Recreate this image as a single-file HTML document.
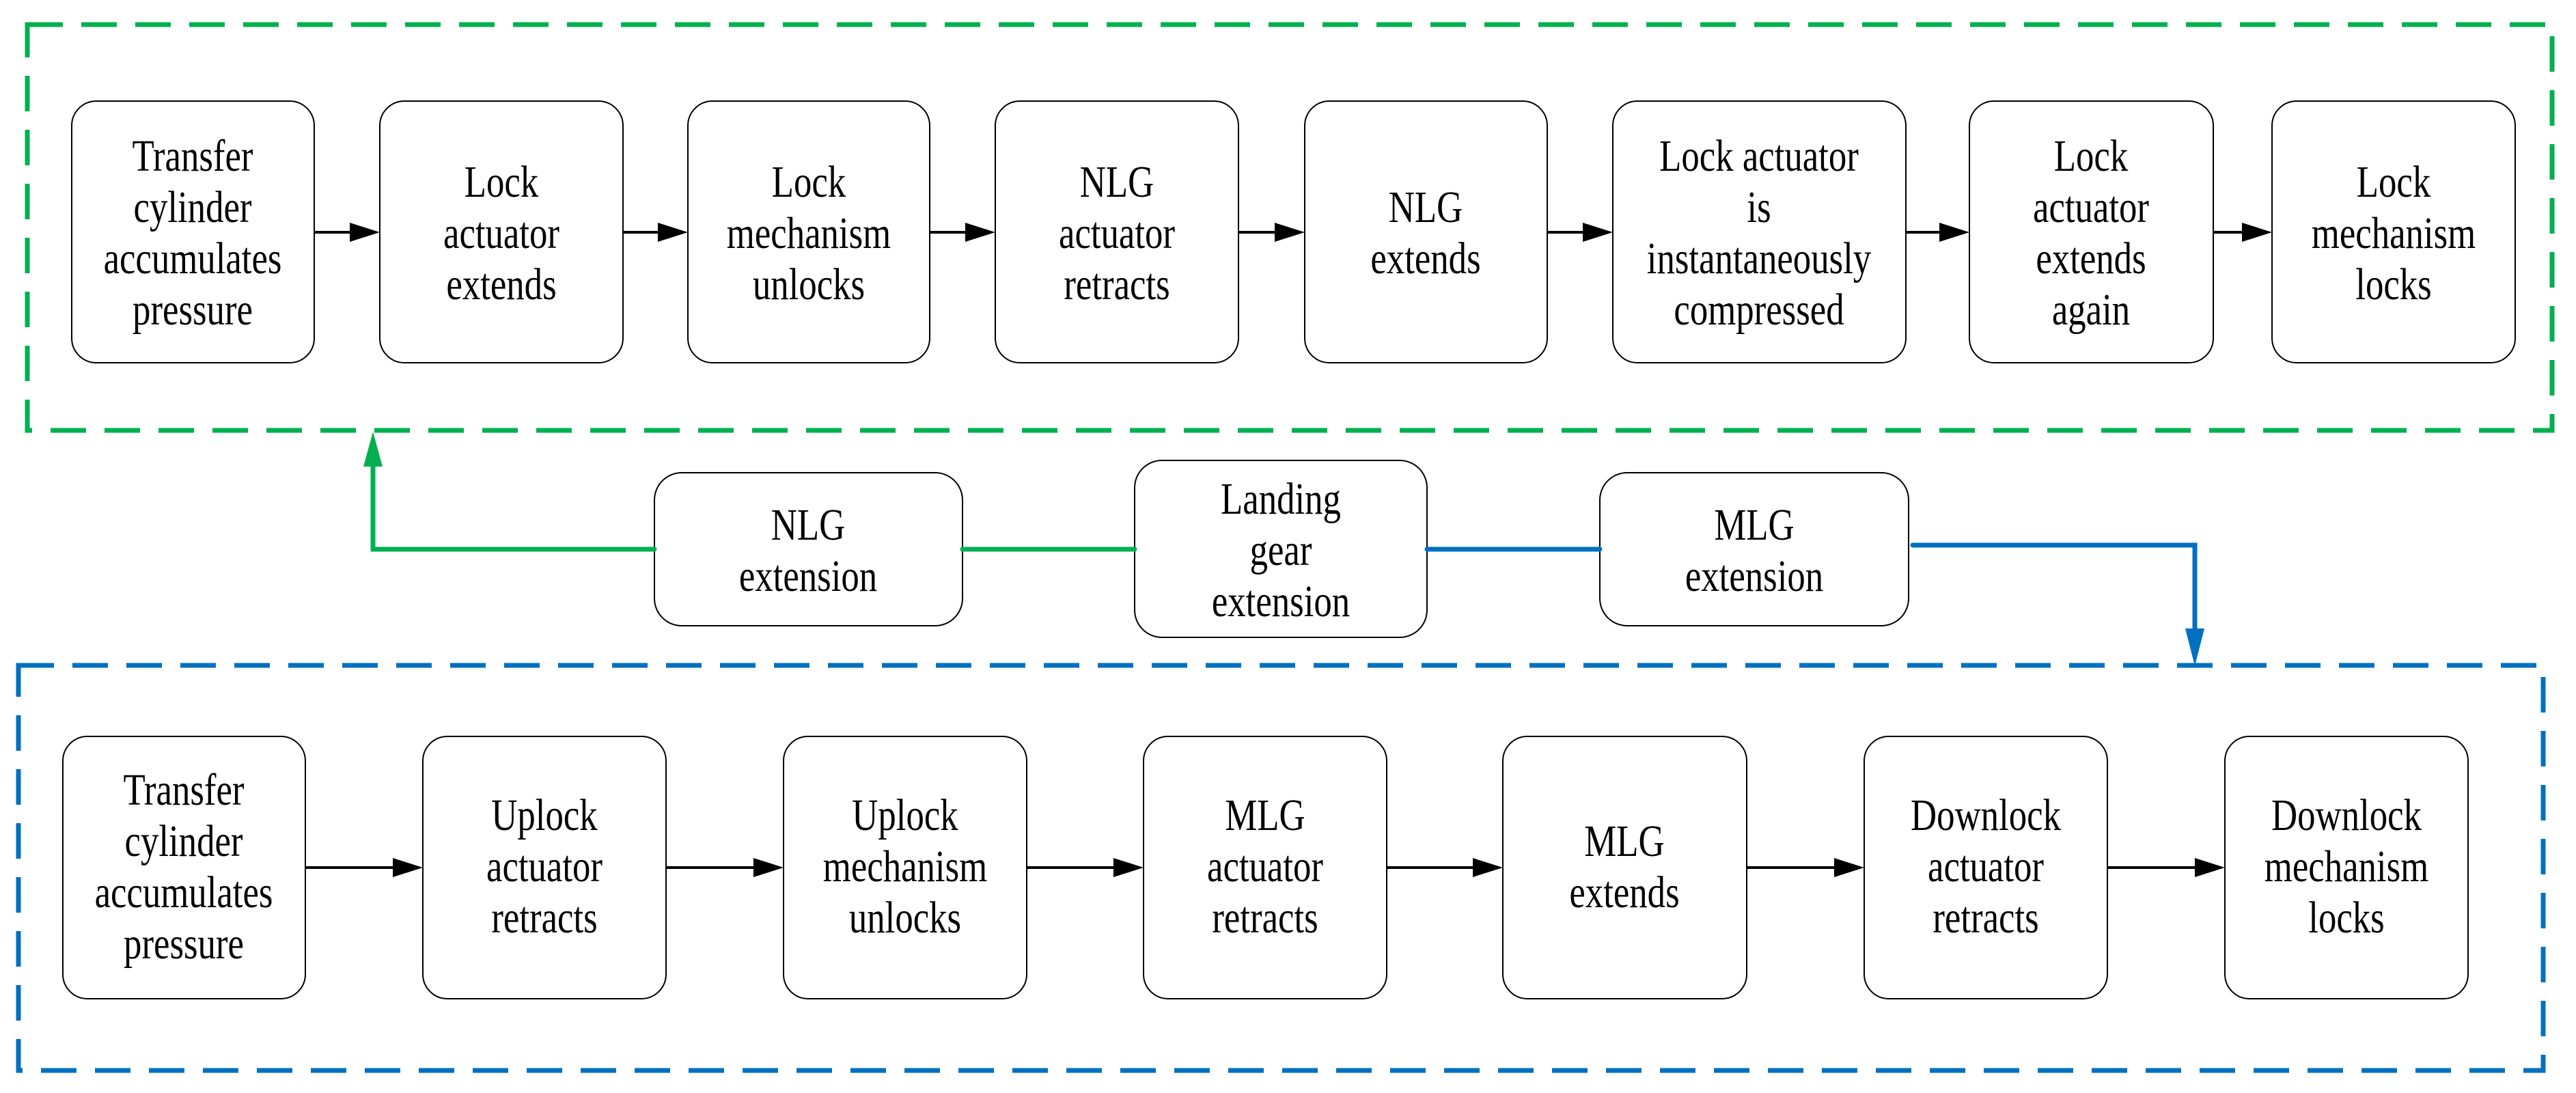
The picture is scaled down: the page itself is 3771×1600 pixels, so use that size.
<!DOCTYPE html>
<html><head><meta charset="utf-8"><style>
html,body{margin:0;padding:0;background:#fff;}
svg{display:block;}
svg text{font-family:"Liberation Serif","Times New Roman",serif;font-size:66px;fill:#000;}
</style></head><body>
<svg width="3771" height="1600" viewBox="0 0 3771 1600" xmlns="http://www.w3.org/2000/svg" font-family="Liberation Serif, Times New Roman, serif">
<!-- dashed containers -->
<rect x="40" y="36" width="3696" height="594" fill="none" stroke="#00b050" stroke-width="7" stroke-dasharray="52,27"/>
<rect x="27" y="974" width="3696" height="593" fill="none" stroke="#0070c0" stroke-width="7" stroke-dasharray="52,27"/>

<g fill="#fff" stroke="#000" stroke-width="2">
<rect x="105" y="148" width="355" height="383" rx="36"/>
<rect x="556" y="148" width="356" height="383" rx="36"/>
<rect x="1007" y="148" width="354" height="383" rx="36"/>
<rect x="1457" y="148" width="356" height="383" rx="36"/>
<rect x="1910" y="148" width="355" height="383" rx="36"/>
<rect x="2361" y="148" width="429" height="383" rx="36"/>
<rect x="2883" y="148" width="357" height="383" rx="36"/>
<rect x="3326" y="148" width="356" height="383" rx="36"/>
<rect x="958" y="692" width="451" height="224" rx="40"/>
<rect x="1661" y="674" width="428" height="259" rx="40"/>
<rect x="2342" y="692" width="452" height="224" rx="40"/>
<rect x="92" y="1078" width="355" height="384" rx="36"/>
<rect x="619" y="1078" width="356" height="384" rx="36"/>
<rect x="1147" y="1078" width="356" height="384" rx="36"/>
<rect x="1674" y="1078" width="356" height="384" rx="36"/>
<rect x="2200" y="1078" width="357" height="384" rx="36"/>
<rect x="2729" y="1078" width="356" height="384" rx="36"/>
<rect x="3257" y="1078" width="356" height="384" rx="36"/>
</g>

<!-- black arrows -->
<g stroke="#000" stroke-width="4">
<line x1="460" y1="340" x2="515" y2="340"/>
<line x1="912" y1="340" x2="966" y2="340"/>
<line x1="1361" y1="340" x2="1416" y2="340"/>
<line x1="1813" y1="340" x2="1869" y2="340"/>
<line x1="2265" y1="340" x2="2320" y2="340"/>
<line x1="2790" y1="340" x2="2842" y2="340"/>
<line x1="3240" y1="340" x2="3285" y2="340"/>
<line x1="447" y1="1270" x2="578" y2="1270"/>
<line x1="975" y1="1270" x2="1106" y2="1270"/>
<line x1="1503" y1="1270" x2="1633" y2="1270"/>
<line x1="2030" y1="1270" x2="2159" y2="1270"/>
<line x1="2557" y1="1270" x2="2688" y2="1270"/>
<line x1="3085" y1="1270" x2="3216" y2="1270"/>
</g>
<g fill="#000">
<path d="M556,340 L512,326 L512,354 z"/>
<path d="M1007,340 L963,326 L963,354 z"/>
<path d="M1457,340 L1413,326 L1413,354 z"/>
<path d="M1910,340 L1866,326 L1866,354 z"/>
<path d="M2361,340 L2317,326 L2317,354 z"/>
<path d="M2883,340 L2839,326 L2839,354 z"/>
<path d="M3326,340 L3282,326 L3282,354 z"/>
<path d="M619,1270 L575,1256 L575,1284 z"/>
<path d="M1147,1270 L1103,1256 L1103,1284 z"/>
<path d="M1674,1270 L1630,1256 L1630,1284 z"/>
<path d="M2200,1270 L2156,1256 L2156,1284 z"/>
<path d="M2729,1270 L2685,1256 L2685,1284 z"/>
<path d="M3257,1270 L3213,1256 L3213,1284 z"/>
</g>

<g stroke="#00b050" stroke-width="7" fill="none" stroke-linecap="round">
<polyline points="958,804 546,804 546,680"/>
<line x1="1409" y1="804" x2="1661" y2="804"/>
</g>
<path d="M546,632 L532,683 L560,683 z" fill="#00b050"/>
<g stroke="#0070c0" stroke-width="7" fill="none" stroke-linecap="round">
<line x1="2089" y1="804" x2="2342" y2="804"/>
<polyline points="2800,798 3213,798 3213,925"/>
</g>
<path d="M3213,975 L3199,920 L3227,920 z" fill="#0070c0"/>

<g text-anchor="middle" font-family="Liberation Serif, Times New Roman, serif" font-size="66">
<g transform="translate(282,0) scale(0.8,1)"><text x="0" y="250">Transfer</text><text x="0" y="325">cylinder</text><text x="0" y="400">accumulates</text><text x="0" y="475">pressure</text></g>
<g transform="translate(734,0) scale(0.8,1)"><text x="0" y="288">Lock</text><text x="0" y="363">actuator</text><text x="0" y="438">extends</text></g>
<g transform="translate(1184,0) scale(0.8,1)"><text x="0" y="288">Lock</text><text x="0" y="363">mechanism</text><text x="0" y="438">unlocks</text></g>
<g transform="translate(1635,0) scale(0.8,1)"><text x="0" y="288">NLG</text><text x="0" y="363">actuator</text><text x="0" y="438">retracts</text></g>
<g transform="translate(2087,0) scale(0.8,1)"><text x="0" y="325">NLG</text><text x="0" y="400">extends</text></g>
<g transform="translate(2575,0) scale(0.8,1)"><text x="0" y="250">Lock actuator</text><text x="0" y="325">is</text><text x="0" y="400">instantaneously</text><text x="0" y="475">compressed</text></g>
<g transform="translate(3061,0) scale(0.8,1)"><text x="0" y="250">Lock</text><text x="0" y="325">actuator</text><text x="0" y="400">extends</text><text x="0" y="475">again</text></g>
<g transform="translate(3504,0) scale(0.8,1)"><text x="0" y="288">Lock</text><text x="0" y="363">mechanism</text><text x="0" y="438">locks</text></g>

<g transform="translate(1183,0) scale(0.8,1)"><text x="0" y="790">NLG</text><text x="0" y="865">extension</text></g>
<g transform="translate(1875,0) scale(0.8,1)"><text x="0" y="752">Landing</text><text x="0" y="827">gear</text><text x="0" y="902">extension</text></g>
<g transform="translate(2568,0) scale(0.8,1)"><text x="0" y="790">MLG</text><text x="0" y="865">extension</text></g>

<g transform="translate(269,0) scale(0.8,1)"><text x="0" y="1178">Transfer</text><text x="0" y="1253">cylinder</text><text x="0" y="1328">accumulates</text><text x="0" y="1403">pressure</text></g>
<g transform="translate(797,0) scale(0.8,1)"><text x="0" y="1215">Uplock</text><text x="0" y="1290">actuator</text><text x="0" y="1365">retracts</text></g>
<g transform="translate(1325,0) scale(0.8,1)"><text x="0" y="1215">Uplock</text><text x="0" y="1290">mechanism</text><text x="0" y="1365">unlocks</text></g>
<g transform="translate(1852,0) scale(0.8,1)"><text x="0" y="1215">MLG</text><text x="0" y="1290">actuator</text><text x="0" y="1365">retracts</text></g>
<g transform="translate(2378,0) scale(0.8,1)"><text x="0" y="1253">MLG</text><text x="0" y="1328">extends</text></g>
<g transform="translate(2907,0) scale(0.8,1)"><text x="0" y="1215">Downlock</text><text x="0" y="1290">actuator</text><text x="0" y="1365">retracts</text></g>
<g transform="translate(3435,0) scale(0.8,1)"><text x="0" y="1215">Downlock</text><text x="0" y="1290">mechanism</text><text x="0" y="1365">locks</text></g>
</g>
</svg>
</body></html>
